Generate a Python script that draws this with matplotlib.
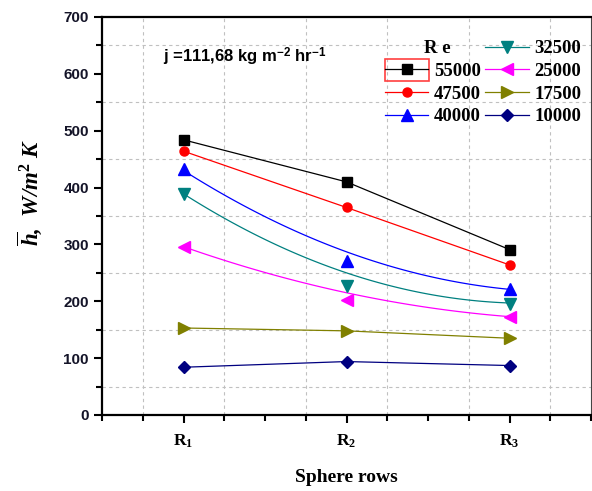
import numpy as np
import matplotlib
matplotlib.use('Agg')
import matplotlib.pyplot as plt
from matplotlib.lines import Line2D
from matplotlib.patches import Rectangle
from matplotlib.ticker import MultipleLocator

plt.rcParams['mathtext.fontset'] = 'custom'
plt.rcParams['mathtext.rm'] = 'Liberation Serif:bold'
plt.rcParams['mathtext.it'] = 'Liberation Serif:italic:bold'
plt.rcParams['mathtext.bf'] = 'Liberation Serif:bold'
plt.rcParams['mathtext.sf'] = 'Liberation Sans:bold'

# ── data ──────────────────────────────────────────────────────────────────────
rows      = [1, 2, 3]
row_names = [r'R$_1$', r'R$_2$', r'R$_3$']
re_labels = ['55000', '47500', '40000', '32500', '25000', '17500', '10000']

h_55000 = [484, 410, 291]
h_47500 = [464, 365, 264]
h_40000 = [432, 271, 222]
h_32500 = [389, 227, 195]
h_25000 = [296, 203, 173]
h_17500 = [153, 148, 135]
h_10000 = [84, 94, 87]

# smoothed fit curves (Origin-style), where they depart from the points
fit_40000 = [430, 287, 221]
fit_32500 = [389, 250, 197]
fit_25000 = [296, 215, 173]

# (points, line values, colour, marker, size, smooth?)
series = [
    (h_55000, h_55000,   'black',   's', 6.5, False),
    (h_47500, h_47500,   '#ff0000', 'o', 6.5, False),
    (h_40000, fit_40000, '#0000ff', '^', 8,   True),
    (h_32500, fit_32500, '#008080', 'v', 8,   True),
    (h_25000, fit_25000, '#ff00ff', '<', 8,   True),
    (h_17500, h_17500,   '#808000', '>', 8,   False),
    (h_10000, h_10000,   '#000080', 'D', 6,   False),
]

# ── figure ────────────────────────────────────────────────────────────────────
fig = plt.figure(figsize=(5.92, 4.91), dpi=100)
ax = fig.add_axes([102 / 592, 1 - 415 / 491, 489 / 592, 398 / 491])

xs = np.linspace(rows[0], rows[-1], 100)
handles = [Line2D([], [], linestyle='none', marker='none')]
for (pts, fit, col, mk, ms, smooth), lab in zip(series, re_labels):
    if smooth:
        coef = np.polyfit(rows, fit, 2)
        ax.plot(xs, np.polyval(coef, xs), color=col, lw=0.9, zorder=3)
    else:
        ax.plot(rows, fit, color=col, lw=0.9, zorder=3)
    ax.plot(rows, pts, linestyle='none', marker=mk, ms=ms, color=col, zorder=4)
    handles.append(Line2D([], [], color=col, lw=0.9, marker=mk, ms=ms))

ax.set_xlim(0.5, 3.5)
ax.set_ylim(0, 700)
ax.set_xticks(rows)
ax.set_xticklabels(row_names, fontsize=12.5, family='Liberation Serif',
                   fontweight='bold')
ax.xaxis.set_minor_locator(MultipleLocator(0.25))
ax.yaxis.set_major_locator(MultipleLocator(100))
ax.yaxis.set_minor_locator(MultipleLocator(50))
for lbl in ax.get_yticklabels():
    lbl.set_fontfamily('Liberation Sans')
    lbl.set_fontweight('bold')
    lbl.set_fontsize(11)
    lbl.set_color('#141428')
ax.tick_params(axis='both', which='major', direction='out', length=6, width=1.5)
ax.tick_params(axis='both', which='minor', direction='out', length=4, width=1.5)
ax.tick_params(axis='x', which='major', pad=7)

for sp in ax.spines.values():
    sp.set_linewidth(1.6)
ax.spines['right'].set_linewidth(0.8)
ax.spines['right'].set_color('#444444')

# dashed grid sits on the minor positions
for gx in np.arange(0.75, 3.5, 0.5):
    ax.axvline(gx, color='#c0c0c0', ls=(0, (3, 3)), lw=0.8, zorder=0)
for gy in np.arange(50, 700, 100):
    ax.axhline(gy, color='#c0c0c0', ls=(0, (3, 3)), lw=0.8, zorder=0)

ax.set_xlabel('Sphere rows', fontsize=14, fontweight='bold',
              family='Liberation Serif', labelpad=13)

fig.text(30 / 592, 1 - 192 / 491, r'$\overline{h}$,  W/m$^2$ K', fontsize=16.5,
         fontweight='bold', fontstyle='italic', family='Liberation Serif',
         rotation=90, ha='center', va='center')

ax.text(0.125, 0.9, r'j =111,68 kg m$^{\mathsf{-2}}$ hr$^{\mathsf{-1}}$',
        transform=ax.transAxes, fontsize=12, fontweight='bold',
        family='Liberation Sans', va='center', ha='left')

leg = fig.legend(handles, ['R e'] + re_labels, ncol=2, loc='upper left',
                 bbox_to_anchor=(385 / 592, 1 - 40 / 491), frameon=False,
                 borderpad=0, borderaxespad=0, handlelength=2.3,
                 handletextpad=0.3, columnspacing=0.25, labelspacing=0.3,
                 prop={'family': 'Liberation Serif', 'weight': 'bold', 'size': 13.5})
# the "Re" header sits a little left of the other labels
leg.get_texts()[0].set_position((-10, 0))

# red selection box round the 55000 handle, as in the source
fig.patches.append(Rectangle((385 / 592, 1 - 81 / 491), 44 / 592, 22 / 491,
                             transform=fig.transFigure, fill=False,
                             edgecolor='#ff4040', lw=1.2))

fig.savefig('out.png', dpi=100)
